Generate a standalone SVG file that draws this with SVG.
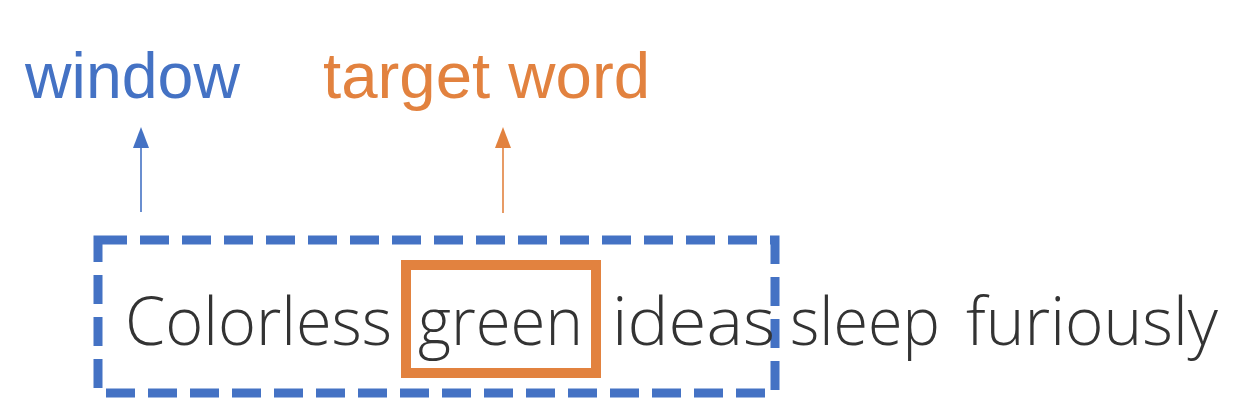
<svg xmlns="http://www.w3.org/2000/svg" width="1252" height="412" viewBox="0 0 1252 412">
<style>
.lbl{font-family:"Liberation Sans",Arial,sans-serif;font-size:64px}
.word{font-family:"Open Sans","Noto Sans",sans-serif;font-size:66px;font-weight:300;fill:#333333}
.blue{fill:#4472C4}
.orange{fill:#E2823F}
.arrowline{stroke-width:1.6}
</style>
<rect width="1252" height="412" fill="#ffffff"/>
<g id="label-window"><text class="lbl blue" x="25" y="98" textLength="215" lengthAdjust="spacingAndGlyphs">window</text></g>
<g id="label-target"><text class="lbl orange" x="323" y="98" textLength="327" lengthAdjust="spacingAndGlyphs">target word</text></g>
<g id="connectors">
<line class="arrowline" x1="141" y1="212" x2="141" y2="146" stroke="#4472C4"/>
<path d="M141,127 L149,148 L133,148 Z" fill="#4472C4"/>
<line class="arrowline" x1="503" y1="213" x2="503" y2="146" stroke="#E2823F"/>
<path d="M503,127 L511,148 L495,148 Z" fill="#E2823F"/>
</g>
<g id="window-box"><rect x="98" y="240" width="677" height="153" fill="none" stroke="#4472C4" stroke-width="9" stroke-dasharray="29 13"/></g>
<g id="target-box"><rect x="406" y="265" width="190" height="108" fill="none" stroke="#E2823F" stroke-width="10"/></g>
<g id="sentence">
<text class="word" x="125" y="345" textLength="267" lengthAdjust="spacingAndGlyphs">Colorless</text>
<text class="word" x="418" y="345" textLength="165" lengthAdjust="spacingAndGlyphs">green</text>
<text class="word" x="612" y="345" textLength="163" lengthAdjust="spacingAndGlyphs">ideas</text>
<text class="word" x="790" y="345" textLength="150" lengthAdjust="spacingAndGlyphs">sleep</text>
<text class="word" x="966" y="345" textLength="252" lengthAdjust="spacingAndGlyphs">furiously</text>
</g>
</svg>
